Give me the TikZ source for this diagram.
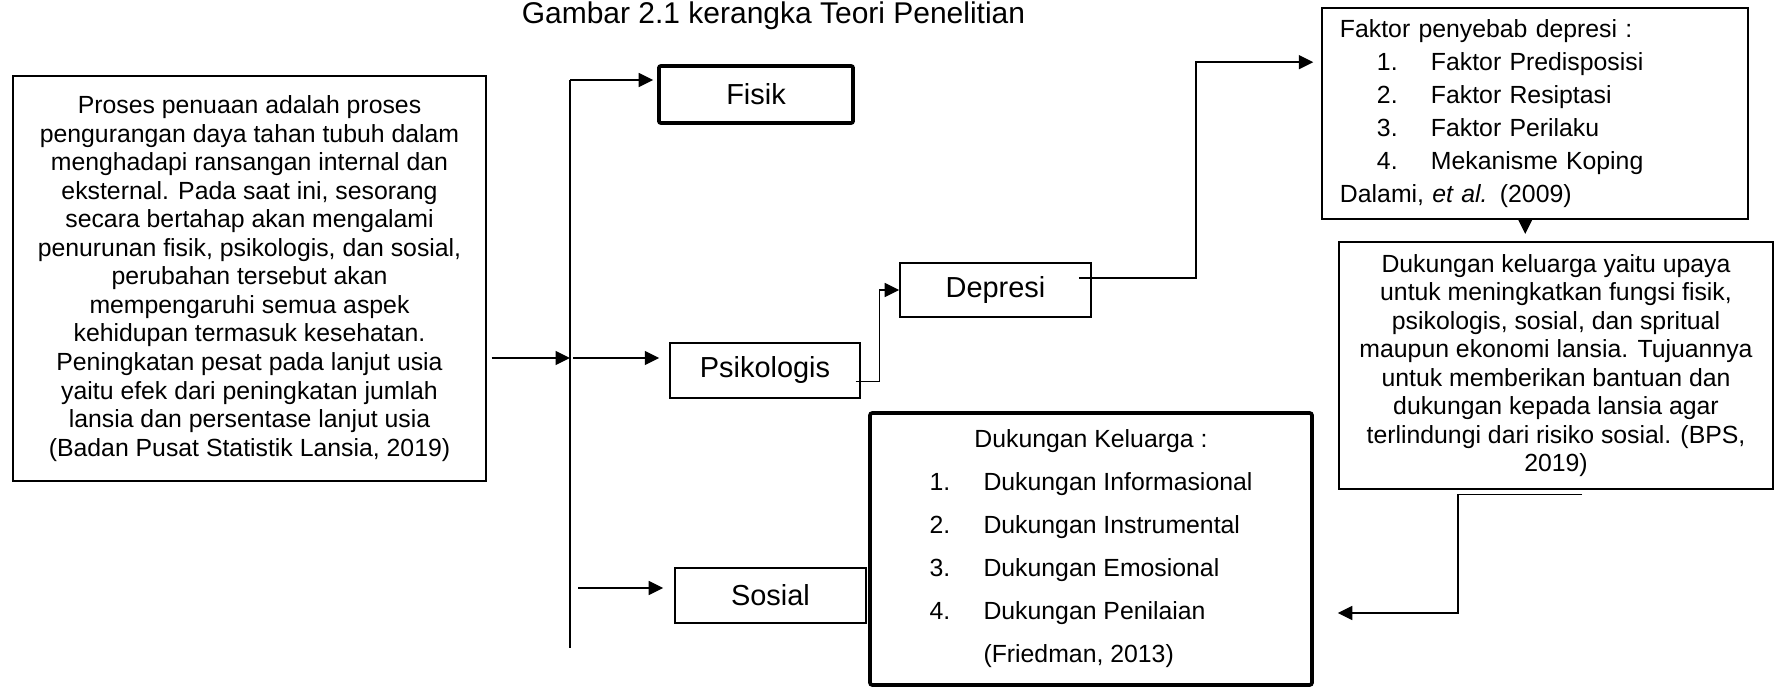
\documentclass[tikz,border=0pt]{standalone}
\usepackage{fontspec}
\setmainfont{Liberation Sans}
\usetikzlibrary{arrows.meta,calc}

\begin{document}
\begin{tikzpicture}[x=0.017cm,y=-0.017cm,
  box/.style={draw,line width=0.7pt,inner sep=0pt,align=center,font=\fontsize{12}{13.8}\selectfont},
  lbl/.style={draw,line width=0.7pt,minimum width=3.25cm,minimum height=0.93cm,font=\fontsize{14}{16.8}\selectfont},
  arr/.style={-{Triangle[length=7pt,width=6.8pt]},line width=0.7pt}]
  \useasboundingbox (0,0) rectangle (1779,688);
  \node[anchor=base,font=\fontsize{14.5}{17.4}\selectfont] (title) at (773.5,24) {Gambar 2.1 kerangka Teori Penelitian};
  % left text
  \node[box,minimum width=8.04cm,minimum height=6.885cm] (proses) at (249.5,278.5) {Proses penuaan adalah proses\\
    pengurangan daya tahan tubuh dalam\\
    menghadapi ransangan internal dan\\
    eksternal. Pada saat ini, sesorang\\
    secara bertahap akan mengalami\\
    penurunan fisik, psikologis, dan sosial,\\
    perubahan tersebut akan\\
    mempengaruhi semua aspek\\
    kehidupan termasuk kesehatan.\\
    Peningkatan pesat pada lanjut usia\\
    yaitu efek dari peningkatan jumlah\\
    lansia dan persentase lanjut usia\\
    (Badan Pusat Statistik Lansia, 2019)};
  % three aspects
  \node[lbl,line width=1.8pt,rounded corners=1pt,minimum width=3.3cm,minimum height=0.97cm] (fisik) at (756,94.5) {Fisik};
  \node[lbl,minimum width=3.23cm] (psiko) at (765,370.5) {Psikologis};
  \node[lbl,minimum height=0.92cm] (depresi) at (995.5,290) {Depresi};
  \node[lbl] (sosial) at (770.5,595.5) {Sosial};
  \node[box,align=left,text width=6.63cm,inner xsep=0.306cm,minimum height=3.59cm,font=\fontsize{12}{15.9}\selectfont] (faktor) at (1535,113.5) {Faktor penyebab depresi :\\
    \hspace*{17.9pt}\makebox[26.1pt][l]{1.}Faktor Predisposisi\\
    \hspace*{17.9pt}\makebox[26.1pt][l]{2.}Faktor Resiptasi\\
    \hspace*{17.9pt}\makebox[26.1pt][l]{3.}Faktor Perilaku\\
    \hspace*{17.9pt}\makebox[26.1pt][l]{4.}Mekanisme Koping\\
    Dalami, \textit{et al.} (2009)};
  \node[box,minimum width=7.38cm,minimum height=4.2cm] (dukungan) at (1556,365.5) {Dukungan keluarga yaitu upaya\\
    untuk meningkatkan fungsi fisik,\\
    psikologis, sosial, dan spritual\\
    maupun ekonomi lansia. Tujuannya\\
    untuk memberikan bantuan dan\\
    dukungan kepada lansia agar\\
    terlindungi dari risiko sosial. (BPS,\\
    2019)};
  \node[box,line width=1.8pt,rounded corners=1pt,align=left,minimum width=7.51cm,minimum height=4.62cm,font=\fontsize{12}{20.8}\selectfont] (keluarga) at (1091,549) {\hspace*{21.7pt}Dukungan Keluarga :\\
    \makebox[26.1pt][l]{1.}Dukungan Informasional\\
    \makebox[26.1pt][l]{2.}Dukungan Instrumental\\
    \makebox[26.1pt][l]{3.}Dukungan Emosional\\
    \makebox[26.1pt][l]{4.}Dukungan Penilaian\\
    \hspace*{26.1pt}(Friedman, 2013)};
  % bus line
  \coordinate (bustop) at (570,80);
  \coordinate (busmid) at (570,358);
  \coordinate (bussos) at (570,588);
  \coordinate (busbot) at (570,648);
  \draw[line width=0.7pt] (bustop) -- (busbot);
  \draw[arr] (bustop) -- ($(fisik.west |- bustop)+(-4,0)$);
  \draw[arr] ($(proses.east |- busmid)+(5,0)$) -- (busmid);
  \draw[arr] ($(busmid)+(3,0)$) -- ($(psiko.west |- busmid)+(-10,0)$);
  \draw[arr] ($(bussos)+(8,0)$) -- ($(sosial.west |- bussos)+(-11,0)$);
  % right side
  \draw[arr] ($(psiko.east)+(-5,11)$) -- ++(24,0) |- (depresi.west);
  \draw[arr] ($(depresi.east)+(-13,-12)$) -- ++(117,0) |- ($(faktor.north west)+(-8,55)$);
  \draw[arr] ($(faktor.south west)+(204,0)$) -- ++(0,14);
  \draw[arr] ($(dukungan.south west)+(244,5)$) -- ++(-124,0) |- ($(keluarga.east)+(24,64)$);
\end{tikzpicture}
\end{document}
